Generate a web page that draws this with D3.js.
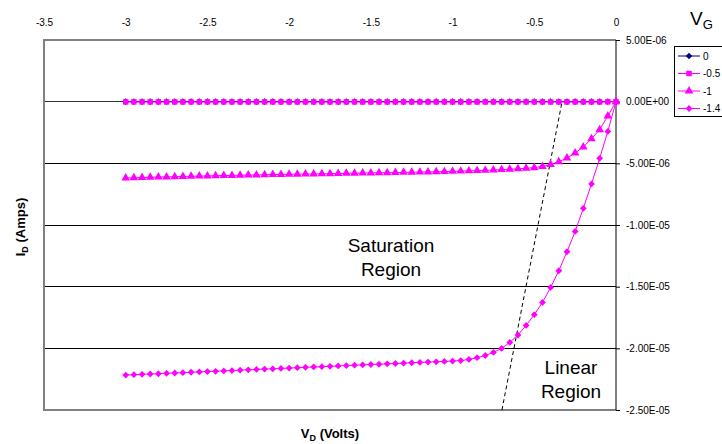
<!DOCTYPE html>
<html>
<head>
<meta charset="utf-8">
<script src="https://cdn.jsdelivr.net/npm/d3@7"></script>
<style>
  html, body { margin: 0; padding: 0; background: #fff; }
  svg { display: block; font-family: "Liberation Sans", Arial, sans-serif; }
</style>
</head>
<body>
<svg id="chart" width="722" height="444"></svg>
<script>
// Drain voltage sweep (V)
const drainVolts = [
  -3.00, -2.95, -2.90, -2.85, -2.80, -2.75, -2.70, -2.65, -2.60, -2.55,
  -2.50, -2.45, -2.40, -2.35, -2.30, -2.25, -2.20, -2.15, -2.10, -2.05,
  -2.00, -1.95, -1.90, -1.85, -1.80, -1.75, -1.70, -1.65, -1.60, -1.55,
  -1.50, -1.45, -1.40, -1.35, -1.30, -1.25, -1.20, -1.15, -1.10, -1.05,
  -1.00, -0.95, -0.90, -0.85, -0.80, -0.75, -0.70, -0.65, -0.60, -0.55,
  -0.50, -0.45, -0.40, -0.35, -0.30, -0.25, -0.20, -0.15, -0.10, -0.05,
  0.00
];

// Drain current per gate voltage, in microamps (scaled to amps when drawn)
const idGate0 = [
  0, 0, 0, 0, 0, 0, 0, 0, 0, 0,
  0, 0, 0, 0, 0, 0, 0, 0, 0, 0,
  0, 0, 0, 0, 0, 0, 0, 0, 0, 0,
  0, 0, 0, 0, 0, 0, 0, 0, 0, 0,
  0, 0, 0, 0, 0, 0, 0, 0, 0, 0,
  0, 0, 0, 0, 0, 0, 0, 0, 0, 0,
  0
];
const idGateM05 = [
  -0.02, -0.02, -0.02, -0.02, -0.02, -0.02, -0.02, -0.02, -0.02, -0.02,
  -0.02, -0.02, -0.02, -0.02, -0.02, -0.02, -0.02, -0.02, -0.02, -0.02,
  -0.02, -0.02, -0.02, -0.02, -0.02, -0.02, -0.02, -0.02, -0.02, -0.02,
  -0.02, -0.02, -0.02, -0.02, -0.02, -0.02, -0.02, -0.02, -0.02, -0.02,
  -0.02, -0.02, -0.02, -0.02, -0.02, -0.02, -0.02, -0.02, -0.02, -0.02,
  -0.02, -0.02, -0.02, -0.02, -0.02, -0.02, -0.02, -0.02, -0.02, -0.01,
  0
];
const idGateM1 = [
  -6.19, -6.17, -6.15, -6.13, -6.11, -6.10, -6.08, -6.06, -6.05, -6.03,
  -6.02, -6.00, -5.99, -5.98, -5.96, -5.95, -5.94, -5.93, -5.91, -5.90,
  -5.89, -5.88, -5.87, -5.86, -5.85, -5.84, -5.82, -5.81, -5.80, -5.79,
  -5.78, -5.77, -5.76, -5.75, -5.73, -5.72, -5.71, -5.70, -5.68, -5.67,
  -5.65, -5.63, -5.61, -5.59, -5.57, -5.54, -5.51, -5.48, -5.44, -5.40,
  -5.35, -5.25, -5.09, -4.87, -4.57, -4.16, -3.67, -3.00, -2.27, -1.16,
  0
];
const idGateM14 = [
  -22.17, -22.14, -22.11, -22.08, -22.06, -22.03, -22.00, -21.97, -21.94, -21.91,
  -21.88, -21.86, -21.83, -21.80, -21.77, -21.74, -21.71, -21.68, -21.66, -21.63,
  -21.60, -21.57, -21.54, -21.51, -21.49, -21.46, -21.43, -21.40, -21.37, -21.34,
  -21.31, -21.29, -21.26, -21.23, -21.20, -21.17, -21.14, -21.11, -21.09, -21.06,
  -21.03, -20.99, -20.90, -20.76, -20.58, -20.33, -20.01, -19.52, -18.92, -18.14,
  -17.27, -16.28, -15.06, -13.71, -12.17, -10.52, -8.65, -6.67, -4.59, -2.41,
  0
];

const gateLabels = ["0", "-0.5", "-1", "-1.4"];
const xTicks = [-3.5, -3, -2.5, -2, -1.5, -1, -0.5, 0];
const yTicks = [5e-6, 0, -5e-6, -1e-5, -1.5e-5, -2e-5, -2.5e-5];
const yTickLabels = ["5.00E-06", "0.00E+00", "-5.00E-06", "-1.00E-05", "-1.50E-05", "-2.00E-05", "-2.50E-05"];

// Boundary between saturation and linear regions (V, A)
const boundaryVolts = [-0.698, -0.330];
const boundaryAmps = [-2.5e-5, 0];

// Diamonds are squares turned 45 degrees
const series = [
  { name: gateLabels[0], values: idGate0, color: "#000080", symbol: d3.symbolSquare, size: 22, rot: 45 },
  { name: gateLabels[1], values: idGateM05, color: "#FF00FF", symbol: d3.symbolSquare, size: 30, rot: 0 },
  { name: gateLabels[2], values: idGateM1, color: "#FF00FF", symbol: d3.symbolTriangle, size: 32, rot: 0 },
  { name: gateLabels[3], values: idGateM14, color: "#FF00FF", symbol: d3.symbolSquare, size: 23, rot: 45 }
];

const svg = d3.select("#chart");
const plot = { left: 44, right: 616, top: 40, bottom: 410 };

const x = d3.scaleLinear().domain([-3.5, 0]).range([plot.left, plot.right]);
const y = d3.scaleLinear().domain([-2.5e-5, 5e-6]).range([plot.bottom, plot.top]);

// Horizontal gridlines
svg.append("g")
  .selectAll("line")
  .data(yTicks.filter(v => v !== 5e-6))
  .join("line")
  .attr("x1", plot.left).attr("x2", plot.right)
  .attr("y1", d => y(d)).attr("y2", d => y(d))
  .attr("stroke", d => d === 0 ? "#333" : "#000")
  .attr("stroke-width", 1)
  .attr("shape-rendering", "crispEdges");

// Plot frame: grey on top, left and bottom
svg.append("path")
  .attr("d", `M${plot.right},${plot.top}H${plot.left}V${plot.bottom}H${plot.right}`)
  .attr("fill", "none")
  .attr("stroke", "#808080")
  .attr("stroke-width", 1.5)
  .attr("shape-rendering", "crispEdges");

// Top axis (drain voltage)
const topAxis = d3.axisTop(x)
  .tickValues(xTicks)
  .tickSize(0)
  .tickPadding(14)
  .tickFormat(d => d3.format("")(d).replace("−", "-"));
const gTop = svg.append("g")
  .attr("transform", `translate(0,${plot.top})`)
  .call(topAxis);
gTop.select(".domain").remove();
gTop.selectAll("text")
  .attr("font-family", "Liberation Sans, Arial, sans-serif")
  .attr("font-size", 10)
  .attr("fill", "#000");

// Right axis (drain current)
const rightAxis = d3.axisRight(y)
  .tickValues(yTicks)
  .tickSize(4)
  .tickPadding(6)
  .tickFormat((d, i) => yTickLabels[i]);
const gRight = svg.append("g")
  .attr("transform", `translate(${plot.right},0)`)
  .call(rightAxis);
gRight.select(".domain")
  .attr("d", `M0,${plot.top}V${plot.bottom}`)
  .attr("stroke", "#000");
gRight.selectAll(".tick line").attr("stroke", "#000");
gRight.selectAll("text")
  .attr("font-family", "Liberation Sans, Arial, sans-serif")
  .attr("font-size", 10)
  .attr("fill", "#000");

// Saturation / linear boundary
svg.append("line")
  .attr("x1", x(boundaryVolts[0])).attr("y1", y(boundaryAmps[0]))
  .attr("x2", x(boundaryVolts[1])).attr("y2", y(boundaryAmps[1]))
  .attr("stroke", "#000")
  .attr("stroke-width", 1)
  .attr("stroke-dasharray", "4,3");

// Series lines and markers
const line = d3.line()
  .x((d, i) => x(drainVolts[i]))
  .y(d => y(d * 1e-6));

series.forEach(s => {
  const g = svg.append("g");
  g.append("path")
    .datum(s.values)
    .attr("d", line)
    .attr("fill", "none")
    .attr("stroke", s.color)
    .attr("stroke-width", 1);
  g.selectAll("path.marker")
    .data(s.values)
    .join("path")
    .attr("class", "marker")
    .attr("d", d3.symbol().type(s.symbol).size(s.size))
    .attr("transform", (d, i) => `translate(${x(drainVolts[i])},${y(d * 1e-6)}) rotate(${s.rot})`)
    .attr("fill", s.color);
});

// Region annotations
const annot = svg.append("g")
  .attr("font-family", "Liberation Sans, Arial, sans-serif")
  .attr("font-size", 19)
  .attr("fill", "#000")
  .attr("text-anchor", "middle");
annot.append("text").attr("x", 391).attr("y", 252).text("Saturation");
annot.append("text").attr("x", 391).attr("y", 276).text("Region");
annot.append("text").attr("x", 571).attr("y", 374).text("Linear");
annot.append("text").attr("x", 571).attr("y", 398).text("Region");

// Axis titles
const yTitle = svg.append("text")
  .attr("transform", "translate(25,227) rotate(-90)")
  .attr("text-anchor", "middle")
  .attr("font-family", "Liberation Sans, Arial, sans-serif")
  .attr("font-weight", "bold")
  .attr("font-size", 13)
  .attr("fill", "#000");
yTitle.append("tspan").text("I");
yTitle.append("tspan").attr("font-size", 9).attr("dy", 3).text("D");
yTitle.append("tspan").attr("dy", -3).text(" (Amps)");

const xTitle = svg.append("text")
  .attr("x", 330).attr("y", 438)
  .attr("text-anchor", "middle")
  .attr("font-family", "Liberation Sans, Arial, sans-serif")
  .attr("font-weight", "bold")
  .attr("font-size", 13)
  .attr("fill", "#000");
xTitle.append("tspan").text("V");
xTitle.append("tspan").attr("font-size", 9).attr("dy", 3).text("D");
xTitle.append("tspan").attr("dy", -3).text(" (Volts)");

// Legend title
const vg = svg.append("text")
  .attr("x", 690).attr("y", 25)
  .attr("font-family", "Liberation Sans, Arial, sans-serif")
  .attr("font-size", 19)
  .attr("fill", "#000");
vg.append("tspan").text("V");
vg.append("tspan").attr("font-size", 13).attr("dy", 4).text("G");

// Legend
const legend = svg.append("g");
legend.append("rect")
  .attr("x", 674).attr("y", 46)
  .attr("width", 60).attr("height", 70)
  .attr("fill", "#fff")
  .attr("stroke", "#000")
  .attr("stroke-width", 1)
  .attr("shape-rendering", "crispEdges");
series.forEach((s, i) => {
  const cy = 56 + i * 17.5;
  legend.append("line")
    .attr("x1", 678).attr("x2", 700)
    .attr("y1", cy).attr("y2", cy)
    .attr("stroke", s.color).attr("stroke-width", 1);
  legend.append("path")
    .attr("d", d3.symbol().type(s.symbol).size(s.size)())
    .attr("transform", `translate(689,${cy}) rotate(${s.rot})`)
    .attr("fill", s.color);
  legend.append("text")
    .attr("x", 703).attr("y", cy + 3.5)
    .attr("font-family", "Liberation Sans, Arial, sans-serif")
    .attr("font-size", 10)
    .attr("fill", "#000")
    .text(s.name);
});
</script>
</body>
</html>
